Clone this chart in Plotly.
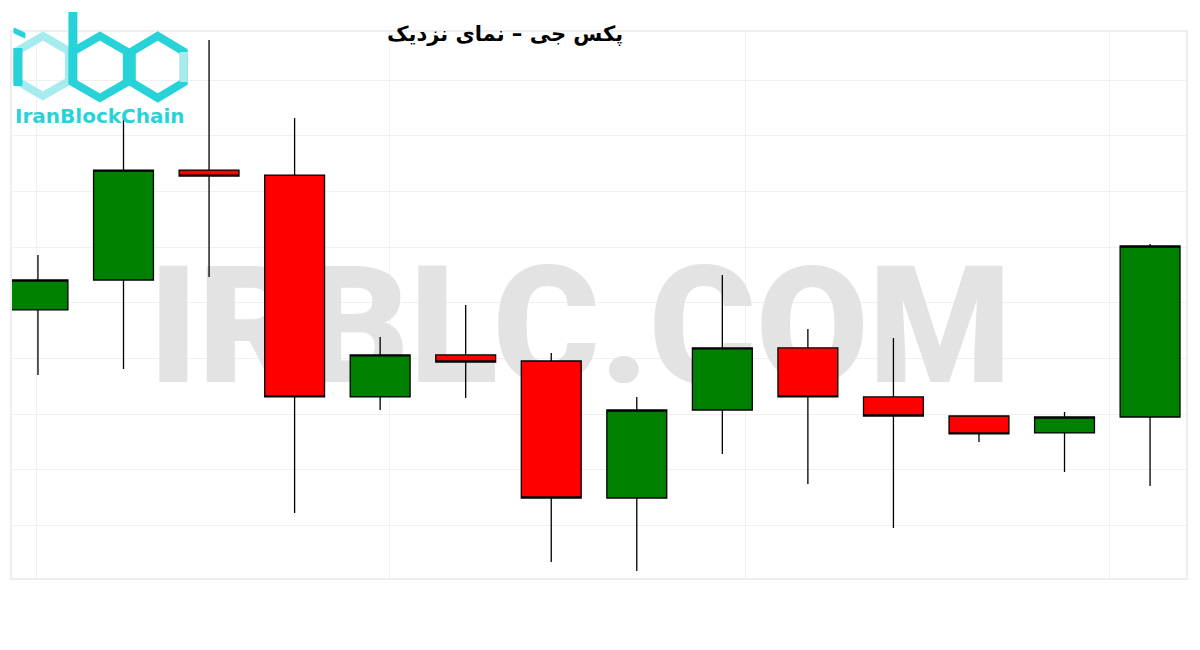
import plotly.graph_objects as go

# ---- data ----
candle_index = list(range(14))
open_ = [1789.36, 1792.05, 1801.92, 1801.47, 1781.55, 1785.32, 1784.78,
         1772.48, 1780.38, 1785.95, 1781.55, 1779.84, 1778.32, 1779.75]
high = [1794.29, 1806.59, 1813.59, 1806.59, 1786.93, 1789.81, 1785.50,
        1781.55, 1792.50, 1787.65, 1786.84, 1779.84, 1780.20, 1795.28]
low = [1783.52, 1784.06, 1792.32, 1771.14, 1780.38, 1781.46, 1766.74,
       1765.93, 1776.43, 1773.74, 1769.79, 1777.51, 1774.82, 1773.56]
close = [1792.05, 1801.92, 1801.38, 1781.55, 1785.32, 1784.69, 1772.48,
         1780.38, 1785.95, 1781.55, 1779.84, 1778.23, 1779.75, 1795.10]

title_text = "پکس جی – نمای نزدیک"
watermark_text = "IRBLC.COM"
logo_text = "IranBlockChain"

# page has an 8px body margin; work in page pixels and convert
PAGE_OFF = 8
W, H = 1184, 634
PL, PR, PT, PB = 12, 1188, 32, 578          # plot frame in page pixels
ML = PL - PAGE_OFF
MT = PT - PAGE_OFF
MR = W - (PR - PAGE_OFF)
MB = H - (PB - PAGE_OFF)


def px(x):
    return (x - PL) / (PR - PL)


def py(y):
    return 1 - (y - PT) / (PB - PT)


fig = go.Figure()

# watermark on the base subplot (drawn underneath the overlaid candle subplot)
fig.add_trace(go.Scatter(
    x=[px(581)], y=[py(341)], mode="text", text=[watermark_text],
    textposition="middle center",
    textfont=dict(family="Roboto", size=163, color="#e3e3e3", weight=900),
    hoverinfo="skip", showlegend=False, xaxis="x", yaxis="y",
))

fig.add_trace(go.Candlestick(
    x=candle_index, open=open_, high=high, low=low, close=close,
    increasing=dict(line=dict(color="#000000", width=1.3), fillcolor="#008000"),
    decreasing=dict(line=dict(color="#000000", width=1.3), fillcolor="#ff0000"),
    whiskerwidth=0, showlegend=False, hoverinfo="skip",
    xaxis="x2", yaxis="y2",
))

# ---- logo (decorative) ----
def hexagon_path(cx, cy, rx, ry):
    pts = [(cx, cy - ry), (cx + rx, cy - ry / 2), (cx + rx, cy + ry / 2),
           (cx, cy + ry), (cx - rx, cy + ry / 2), (cx - rx, cy - ry / 2)]
    return "M " + " L ".join(f"{px(a):.5f},{py(b):.5f}" for a, b in pts) + " Z"


dark = "#27d3d8"
light = "#a6ecef"
shapes = []
shapes.append(dict(type="path", xref="paper", yref="paper",
                   path=hexagon_path(43, 66, 26, 30), line=dict(color=light, width=8)))
shapes.append(dict(type="path", xref="paper", yref="paper",
                   path=hexagon_path(100, 67, 27, 31), line=dict(color=dark, width=8)))
shapes.append(dict(type="path", xref="paper", yref="paper",
                   path=hexagon_path(158, 67, 26, 31), line=dict(color=dark, width=8)))
shapes.append(dict(type="line", xref="paper", yref="paper",
                   x0=px(184), y0=py(52), x1=px(184), y1=py(82),
                   line=dict(color=light, width=8)))
shapes.append(dict(type="line", xref="paper", yref="paper",
                   x0=px(18), y0=py(48), x1=px(18), y1=py(86),
                   line=dict(color=dark, width=9)))
shapes.append(dict(type="path", xref="paper", yref="paper",
                   path=f"M {px(14)},{py(28)} L {px(25)},{py(33)} L {px(25)},{py(38)} L {px(14)},{py(33)} Z",
                   fillcolor=dark, line=dict(color=dark, width=1)))
shapes.append(dict(type="line", xref="paper", yref="paper",
                   x0=px(73), y0=py(12), x1=px(73), y1=py(84),
                   line=dict(color=dark, width=9)))

fig.update_layout(
    width=W, height=H,
    margin=dict(l=ML, r=MR, t=MT, b=MB, pad=0),
    paper_bgcolor="#ffffff", plot_bgcolor="#ffffff",
    showlegend=False,
    boxgap=0.3, boxgroupgap=0,
    shapes=shapes,
    xaxis=dict(range=[0, 1], visible=False, fixedrange=True),
    yaxis=dict(range=[0, 1], visible=False, fixedrange=True),
    xaxis2=dict(overlaying="x", range=[-0.3034, 13.42],
                rangeslider=dict(visible=False),
                tickvals=[-0.012, 4.108, 8.274, 12.52], showticklabels=False,
                showgrid=True, gridcolor="#f0f0f0", gridwidth=1, zeroline=False,
                showline=True, mirror=True, linecolor="#eeeeee", linewidth=2,
                ticks=""),
    yaxis2=dict(overlaying="y", range=[1765.30, 1814.31], dtick=5, tick0=1810,
                showticklabels=False, showgrid=True, gridcolor="#f0f0f0",
                gridwidth=1, zeroline=False, showline=True, mirror=True,
                linecolor="#eeeeee", linewidth=2, ticks=""),
    annotations=[
        dict(text=title_text, xref="paper", yref="paper",
             x=px(506), y=py(34), xanchor="center", yanchor="middle",
             showarrow=False,
             font=dict(family="DejaVu Sans", size=21, color="#000000", weight="bold")),
        dict(text=logo_text, xref="paper", yref="paper",
             x=px(100), y=py(116), xanchor="center", yanchor="middle",
             showarrow=False,
             font=dict(family="DejaVu Sans", size=20, color=dark, weight="bold")),
    ],
)

fig.write_html("out.html")
